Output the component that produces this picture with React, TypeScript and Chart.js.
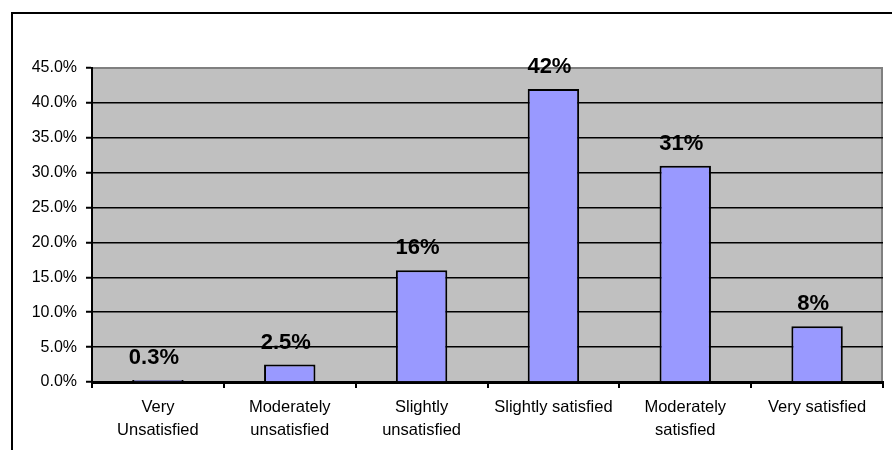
import React, { useEffect, useRef } from "react";
import { Chart, registerables } from "chart.js";

Chart.register(...registerables);

// Survey responses: share of respondents per satisfaction level (%)
const categories: (string | string[])[] = [
  ["Very", "Unsatisfied"],
  ["Moderately", "unsatisfied"],
  ["Slightly", "unsatisfied"],
  "Slightly satisfied",
  ["Moderately", "satisfied"],
  "Very satisfied",
];
const shares: number[] = [0.3, 2.5, 16, 42, 31, 8];
const yTickValues: number[] = [0, 5, 10, 15, 20, 25, 30, 35, 40, 45];

const FONT = "'Liberation Sans', Arial, Helvetica, sans-serif";

// Outer frame and grey plot background
const framePlugin = {
  id: "frame",
  beforeDraw(chart: any) {
    const { ctx, chartArea } = chart;
    const { left, top, right, bottom } = chartArea;
    ctx.save();
    ctx.fillStyle = "#ffffff";
    ctx.fillRect(0, 0, chart.width, chart.height);
    ctx.strokeStyle = "#000000";
    ctx.lineWidth = 2;
    ctx.beginPath();
    ctx.moveTo(12, chart.height + 5);
    ctx.lineTo(12, 13);
    ctx.lineTo(chart.width + 5, 13);
    ctx.stroke();
    ctx.fillStyle = "#c0c0c0";
    ctx.fillRect(left, top, right - left, bottom - top);
    ctx.strokeStyle = "#808080";
    ctx.lineWidth = 2;
    ctx.beginPath();
    ctx.moveTo(left, top);
    ctx.lineTo(right - 1, top);
    ctx.lineTo(right - 1, bottom);
    ctx.stroke();
    ctx.restore();
  },
};

// Bold value labels above each bar
const valueLabelPlugin = {
  id: "valueLabels",
  afterDatasetsDraw(chart: any) {
    const { ctx } = chart;
    const meta = chart.getDatasetMeta(0);
    ctx.save();
    ctx.font = `bold 22px ${FONT}`;
    ctx.fillStyle = "#000000";
    ctx.textAlign = "center";
    ctx.textBaseline = "alphabetic";
    meta.data.forEach((bar: any, i: number) => {
      const text = `${shares[i]}%`;
      ctx.fillText(text, bar.x - 4, bar.y - 16);
    });
    ctx.restore();
  },
};

export default function App() {
  const canvasRef = useRef<HTMLCanvasElement | null>(null);

  useEffect(() => {
    if (!canvasRef.current) return;
    const chart = new Chart(canvasRef.current, {
      type: "bar",
      data: {
        labels: categories,
        datasets: [
          {
            data: shares,
            backgroundColor: "#9999ff",
            borderColor: "#000000",
            borderWidth: 2,
            barPercentage: 0.39,
            categoryPercentage: 1,
          },
        ],
      },
      options: {
        responsive: false,
        animation: false,
        devicePixelRatio: 1,
        layout: { padding: { left: 0, top: 68, right: 9, bottom: 0 } },
        plugins: {
          legend: { display: false },
          tooltip: { enabled: false },
        },
        scales: {
          x: {
            afterFit(scale: any) {
              scale.height = 68;
            },
            grid: {
              offset: true,
              drawOnChartArea: false,
              drawTicks: true,
              tickLength: 6,
              color: "#000000",
              lineWidth: 2,
            },
            border: { display: true, color: "#000000", width: 3 },
            ticks: {
              color: "#000000",
              font: { family: FONT, size: 16.5, lineHeight: 1.38 },
              padding: 8,
              maxRotation: 0,
              autoSkip: false,
            },
          },
          y: {
            min: 0,
            max: 45,
            afterFit(scale: any) {
              scale.width = 92;
            },
            afterBuildTicks(scale: any) {
              scale.ticks = yTickValues.map((v) => ({ value: v }));
            },
            grid: {
              color: (c: any) => (c.tick && c.tick.value === 45 ? "#808080" : "#000000"),
              lineWidth: 1.5,
              tickLength: 6,
              tickColor: "#000000",
              tickWidth: 2,
            },
            border: { display: true, color: "#000000", width: 2 },
            ticks: {
              color: "#000000",
              font: { family: FONT, size: 16 },
              padding: 9,
              callback: (v: any) => `${Number(v).toFixed(1)}%`,
            },
          },
        },
      },
      plugins: [framePlugin, valueLabelPlugin],
    });
    return () => chart.destroy();
  }, []);

  return (
    <div style={{ position: "absolute", left: 0, top: 0, width: 892, height: 450 }}>
      <canvas ref={canvasRef} width={892} height={450} />
    </div>
  );
}
